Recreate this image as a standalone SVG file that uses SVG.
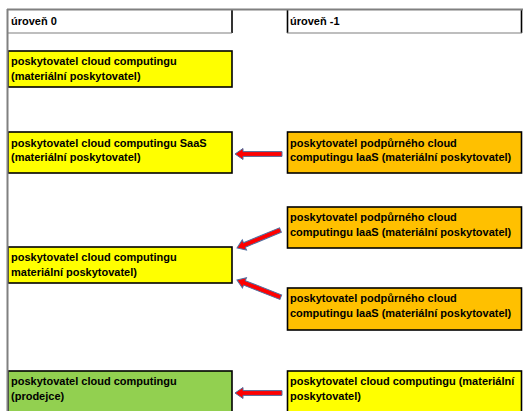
<svg xmlns="http://www.w3.org/2000/svg" width="523" height="411" viewBox="0 0 523 411">
<defs>
<style>
.t{font-family:"Liberation Sans",Arial,sans-serif;font-weight:bold;font-size:11px;fill:#000}
.box{stroke:#000;stroke-width:1.6}
.y{fill:#ffff00}.o{fill:#ffc000}.g{fill:#92d050}
.grid{stroke:#808080;stroke-width:2;fill:none}
.arr{fill:#ff0000;stroke:#4f6fa0;stroke-width:1}
</style>
<polygon id="arrow" class="arr" points="0,0 8,-5.5 8,-2.4 47,-2.4 47,2.4 8,2.4 8,5.5"/>
</defs>
<rect width="523" height="411" fill="#fff"/>
<g id="header0">
<rect x="8" y="10" width="224" height="23" fill="#fff"/>
<line x1="232" y1="10" x2="232" y2="33" stroke="#000" stroke-width="1.6"/>
<line x1="8" y1="33" x2="232" y2="33" stroke="#7f7f7f" stroke-width="1.2"/>
<text class="t" x="11" y="25">úroveň 0</text>
</g>
<g id="header1">
<rect x="287" y="10" width="235" height="23" fill="#fff"/>
<line x1="287.5" y1="10" x2="287.5" y2="33" stroke="#000" stroke-width="1.6"/>
<line x1="521.5" y1="10" x2="521.5" y2="33" stroke="#000" stroke-width="1.6"/>
<line x1="287" y1="33" x2="522" y2="33" stroke="#7f7f7f" stroke-width="1.2"/>
<text class="t" x="290" y="25">úroveň -1</text>
</g>
<g id="l1">
<rect class="box y" x="8" y="51" width="224" height="36"/>
<text class="t" x="11" y="65">poskytovatel cloud computingu</text>
<text class="t" x="11" y="80">(materiální poskytovatel)</text>
</g>
<g id="l2">
<rect class="box y" x="8" y="132" width="224" height="41"/>
<text class="t" x="11" y="146.5">poskytovatel cloud computingu SaaS</text>
<text class="t" x="11" y="161">(materiální poskytovatel)</text>
</g>
<g id="r2">
<rect class="box o" x="287.5" y="132" width="234" height="41"/>
<text class="t" x="290" y="146.5">poskytovatel podpůrného cloud</text>
<text class="t" x="290" y="161">computingu IaaS (materiální poskytovatel)</text>
</g>
<g id="l3">
<rect class="box y" x="8" y="247" width="224" height="36"/>
<text class="t" x="11" y="261">poskytovatel cloud computingu</text>
<text class="t" x="11" y="276">materiální poskytovatel)</text>
</g>
<g id="r3a">
<rect class="box o" x="287.5" y="207" width="234" height="41"/>
<text class="t" x="290" y="221">poskytovatel podpůrného cloud</text>
<text class="t" x="290" y="236">computingu IaaS (materiální poskytovatel)</text>
</g>
<g id="r3b">
<rect class="box o" x="287.5" y="288" width="234" height="42"/>
<text class="t" x="290" y="302">poskytovatel podpůrného cloud</text>
<text class="t" x="290" y="317">computingu IaaS (materiální poskytovatel)</text>
</g>
<g id="l4">
<rect class="box g" x="8" y="371" width="224" height="42"/>
<text class="t" x="11" y="385">poskytovatel cloud computingu</text>
<text class="t" x="11" y="400">(prodejce)</text>
</g>
<g id="r4">
<rect class="box y" x="287.5" y="371" width="234" height="42"/>
<text class="t" x="290" y="385">poskytovatel cloud computingu (materiální</text>
<text class="t" x="290" y="400">poskytovatel)</text>
</g>
<g id="connectors">
<use href="#arrow" transform="translate(235,154)"/>
<use href="#arrow" transform="translate(237,248) rotate(-22.4)"/>
<use href="#arrow" transform="translate(237,280) rotate(21.4)"/>
<use href="#arrow" transform="translate(235,393)"/>
</g>
<g id="grid">
<line class="grid" x1="7" y1="9.5" x2="523" y2="9.5"/>
<line class="grid" x1="7.5" y1="9" x2="7.5" y2="411"/>
</g>
</svg>
